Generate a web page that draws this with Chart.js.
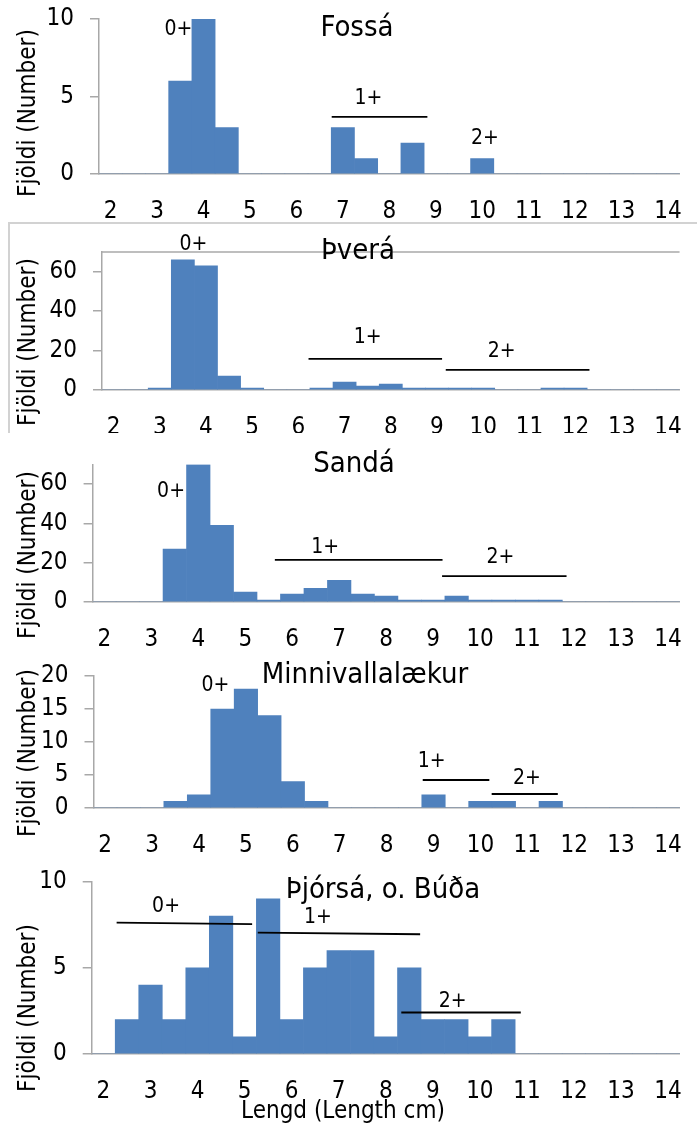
<!DOCTYPE html>
<html>
<head>
<meta charset="utf-8">
<script src="https://cdn.jsdelivr.net/npm/chart.js@4.4.1/dist/chart.umd.min.js"></script>
<style>
    body { margin: 0; background: #fff; width: 697px; height: 1126px; position: relative; overflow: hidden; }
    .panel { position: absolute; left: 0; width: 697px; overflow: hidden; }
    .panel canvas { position: absolute; left: 0; top: -20px; }
    .title, .ytitle, .xtitle {
        position: absolute; text-align: center; color: #000; white-space: nowrap;
        font-family: 'DejaVu Sans Condensed', 'DejaVu Sans', sans-serif;
    }
    .title { width: 400px; font-size: 29px; line-height: 29px; }
    .ytitle { left: -83px; width: 220px; font-size: 24px; line-height: 24px; transform: rotate(-90deg); }
    .xtitle { width: 300px; font-size: 24px; line-height: 24px; }
    .frame { position: absolute; left: 8px; top: 0; width: 700px; height: 300px; border-left: 2px solid #d2d2d2; border-top: 2px solid #d2d2d2; }
</style>
</head>
<body>
<div class="panel" style="top:0;height:222px">
    <canvas id="c1" width="697" height="282"></canvas>
    <div class="title" style="left:157px;top:11.5px">Fossá</div>
    <div class="ytitle" style="top:101px">Fjöldi (Number)</div>
</div>
<div class="panel" style="top:222px;height:211px">
    <div class="frame"></div>
    <canvas id="c2" width="697" height="271"></canvas>
    <div class="title" style="left:158px;top:12.5px">Þverá</div>
    <div class="ytitle" style="top:107.5px">Fjöldi (Number)</div>
</div>
<div class="panel" style="top:433px;height:222px">
    <canvas id="c3" width="697" height="282"></canvas>
    <div class="title" style="left:154px;top:15px">Sandá</div>
    <div class="ytitle" style="top:110px">Fjöldi (Number)</div>
</div>
<div class="panel" style="top:655px;height:205px">
    <canvas id="c4" width="697" height="265"></canvas>
    <div class="title" style="left:165px;top:3.5px">Minnivallalækur</div>
    <div class="ytitle" style="top:86px">Fjöldi (Number)</div>
</div>
<div class="panel" style="top:860px;height:266px">
    <canvas id="c5" width="697" height="326"></canvas>
    <div class="title" style="left:183px;top:13.5px">Þjórsá, o. Búða</div>
    <div class="ytitle" style="top:136px">Fjöldi (Number)</div>
    <div class="xtitle" style="left:193px;top:238px">Lengd (Length cm)</div>
</div>

<script>
// Length classes (0.5 cm bins), only whole cm are labelled
const binLabels = ['2', '2.5', '3', '3.5', '4', '4.5', '5', '5.5', '6', '6.5', '7', '7.5', '8',
    '8.5', '9', '9.5', '10', '10.5', '11', '11.5', '12', '12.5', '13', '13.5', '14'];

// Counts per bin for each river
const fossa      = [0, 0, 0, 6, 10, 3, 0, 0, 0, 0, 3, 1, 0, 2, 0, 0, 1, 0, 0, 0, 0, 0, 0, 0, 0];
const thvera     = [0, 0, 1, 66, 63, 7, 1, 0, 0, 1, 4, 2, 3, 1, 1, 1, 1, 0, 0, 1, 1, 0, 0, 0, 0];
const sanda      = [0, 0, 0, 27, 70, 39, 5, 1, 4, 7, 11, 4, 3, 1, 1, 3, 1, 1, 1, 1, 0, 0, 0, 0, 0];
const minnivalla = [0, 0, 0, 1, 2, 15, 18, 14, 4, 1, 0, 0, 0, 0, 2, 0, 1, 1, 0, 1, 0, 0, 0, 0, 0];
const thjorsa    = [0, 2, 4, 2, 5, 8, 1, 9, 2, 5, 6, 6, 1, 5, 2, 2, 1, 2, 0, 0, 0, 0, 0, 0, 0];

const yMax  = [10, 70, 70, 20, 10];
const yStep = [5, 20, 20, 5, 5];

// Age group marks: labels [text, length cm, count], lines [cm1, count1, cm2, count2]
const fossaAgeLabels = [['0+', 3.46, 9.3], ['1+', 7.55, 4.9], ['2+', 10.06, 2.3]];
const fossaAgeLines  = [[6.76, 3.68, 8.82, 3.68]];
const thveraAgeLabels = [['0+', 3.73, 73.8], ['1+', 7.5, 26.5], ['2+', 10.4, 19.3]];
const thveraAgeLines  = [[6.22, 15.8, 9.11, 15.8], [9.19, 10.2, 12.3, 10.2]];
const sandaAgeLabels = [['0+', 3.42, 56.1], ['1+', 6.7, 27.5], ['2+', 10.43, 22.4]];
const sandaAgeLines  = [[5.63, 21.4, 9.2, 21.4], [9.19, 13.2, 11.84, 13.2]];
const minniAgeLabels = [['0+', 4.35, 18.6], ['1+', 8.96, 7.0], ['2+', 10.99, 4.5]];
const minniAgeLines  = [[8.77, 4.24, 10.19, 4.24], [10.24, 2.12, 11.65, 2.12]];
const thjorsaAgeLabels = [['0+', 3.33, 8.55], ['1+', 6.56, 7.91], ['2+', 9.42, 3.05]];
const thjorsaAgeLines  = [[2.28, 7.62, 5.16, 7.54], [5.28, 7.04, 8.73, 6.95], [8.33, 2.41, 10.87, 2.41]];

const FONT = "'DejaVu Sans Condensed', 'DejaVu Sans', sans-serif";
const AXIS_GREY = '#a8a8a8';

// draws the age group lines/labels in data units, plus optional top border of the plot area
const ageGroups = {
    id: 'ageGroups',
    afterDatasetsDraw(chart, args, opts) {
        const { ctx, chartArea, scales: { x, y } } = chart;
        const px = cm => x.getPixelForValue((cm - 2) / 0.5);
        ctx.save();
        if (opts.topBorder) {
            ctx.strokeStyle = AXIS_GREY;
            ctx.lineWidth = 1.5;
            ctx.beginPath();
            ctx.moveTo(chartArea.left, chartArea.top);
            ctx.lineTo(chartArea.right, chartArea.top);
            ctx.stroke();
        }
        ctx.strokeStyle = '#000';
        ctx.lineWidth = 1.8;
        (opts.lines || []).forEach(([c1, v1, c2, v2]) => {
            ctx.beginPath();
            ctx.moveTo(px(c1), y.getPixelForValue(v1));
            ctx.lineTo(px(c2), y.getPixelForValue(v2));
            ctx.stroke();
        });
        ctx.fillStyle = '#000';
        ctx.font = '21px ' + FONT;
        ctx.textAlign = 'center';
        ctx.textBaseline = 'middle';
        (opts.labels || []).forEach(([t, c, v]) => ctx.fillText(t, px(c), y.getPixelForValue(v)));
        ctx.restore();
    }
};

function makeChart(id, values, i, pad, ageLabels, ageLines, topBorder) {
    return new Chart(document.getElementById(id), {
        type: 'bar',
        data: {
            labels: binLabels,
            datasets: [{
                data: values,
                backgroundColor: '#4f81bd',
                borderWidth: 0,
                barPercentage: 1,
                categoryPercentage: 1
            }]
        },
        options: {
            responsive: false,
            animation: false,
            layout: { padding: pad },
            plugins: {
                legend: { display: false },
                tooltip: { enabled: false },
                ageGroups: { labels: ageLabels, lines: ageLines, topBorder: topBorder }
            },
            scales: {
                x: {
                    grid: { display: false },
                    border: { display: true, color: AXIS_GREY, width: 1.5 },
                    ticks: {
                        autoSkip: false,
                        maxRotation: 0,
                        padding: 15,
                        color: '#000',
                        font: { family: FONT, size: 24 },
                        callback: function (v) {
                            const l = this.getLabelForValue(v);
                            return Number(l) % 1 === 0 ? l : '';
                        }
                    },
                    afterFit: s => { s.height = 60; }
                },
                y: {
                    min: 0,
                    max: yMax[i],
                    grid: { drawOnChartArea: false, drawTicks: true, tickLength: 9, color: AXIS_GREY, lineWidth: 1.5 },
                    border: { display: true, color: AXIS_GREY, width: 1.5 },
                    ticks: {
                        stepSize: yStep[i],
                        includeBounds: false,
                        padding: 16,
                        color: '#000',
                        font: { family: FONT, size: 24 }
                    },
                    afterFit: s => { s.width = 80; }
                }
            }
        },
        plugins: [ageGroups]
    });
}

// canvases start 20px above their panel, so paddings are in canvas coordinates
makeChart('c1', fossa, 0, { left: 19, right: 14, top: 39, bottom: 28 }, fossaAgeLabels, fossaAgeLines, false);
makeChart('c2', thvera, 1, { left: 22, right: 13, top: 50, bottom: 23 }, thveraAgeLabels, thveraAgeLines, true);
makeChart('c3', sanda, 2, { left: 12.6, right: 13, top: 51.5, bottom: 33 }, sandaAgeLabels, sandaAgeLines, false);
makeChart('c4', minnivalla, 3, { left: 13.5, right: 13, top: 41, bottom: 32 }, minniAgeLabels, minniAgeLines, false);
makeChart('c5', thjorsa, 4, { left: 11.7, right: 10.3, top: 41.7, bottom: 52 }, thjorsaAgeLabels, thjorsaAgeLines, false);
</script>
</body>
</html>
